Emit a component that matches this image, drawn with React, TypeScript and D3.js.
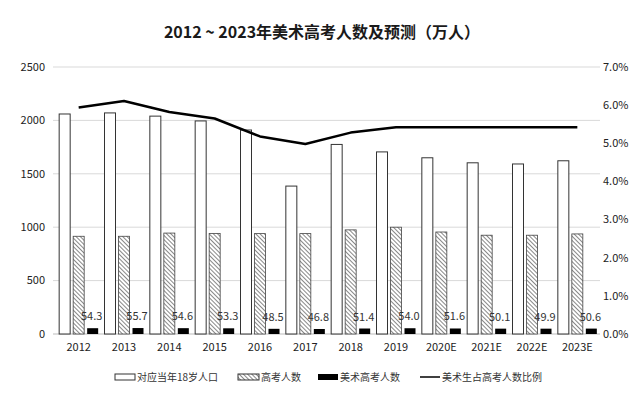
import * as d3 from 'd3';

const years = ['2012', '2013', '2014', '2015', '2016', '2017', '2018', '2019', '2020E', '2021E', '2022E', '2023E'];
const population18 = [2060, 2070, 2040, 1995, 1910, 1385, 1775, 1705, 1650, 1603, 1592, 1622];
const gaokao = [915, 915, 945, 942, 940, 940, 975, 1000, 955, 925, 925, 937];
const artGaokao = [54.3, 55.7, 54.6, 53.3, 48.5, 46.8, 51.4, 54.0, 51.6, 50.1, 49.9, 50.6];
const artRatio = [5.94, 6.11, 5.82, 5.65, 5.18, 4.98, 5.28, 5.42, 5.42, 5.42, 5.42, 5.42];
const leftTicks = [0, 500, 1000, 1500, 2000, 2500];
const rightTicks = [0, 1, 2, 3, 4, 5, 6, 7];
const legendLabels = ['对应当年18岁人口', '高考人数', '美术高考人数', '美术生占高考人数比例'];

const W = 640;
const H = 393;
const margin = { top: 67, right: 40, bottom: 59, left: 56 };
const font = '"Noto Sans CJK SC", "Noto Sans", sans-serif';

export default function App() {
  const x = d3.scaleBand().domain(years).range([margin.left, W - margin.right]);
  const yL = d3.scaleLinear().domain([0, 2500]).range([H - margin.bottom, margin.top]);
  const yR = d3.scaleLinear().domain([0, 7]).range([H - margin.bottom, margin.top]);
  const cx = (d: string) => (x(d) ?? 0) + x.bandwidth() / 2;
  const bw = 11;
  const step = 14;

  const line = d3
    .line<number>()
    .x((_, i) => cx(years[i]))
    .y((v) => yR(v));

  const legendItems = [
    { x: 115, w: 20, text: legendLabels[0], kind: 'white' },
    { x: 238, w: 21, text: legendLabels[1], kind: 'hatch' },
    { x: 318, w: 20, text: legendLabels[2], kind: 'black' },
    { x: 420, w: 20, text: legendLabels[3], kind: 'line' },
  ];

  return (
    <svg width={W} height={H} style={{ position: 'absolute', left: 0, top: 0, background: '#fff' }} fontFamily={font}>
      <defs>
        <pattern id="hatch" width="3" height="3" patternUnits="userSpaceOnUse" patternTransform="rotate(-45)">
          <rect width="3" height="3" fill="#fff" />
          <line x1="0" y1="0" x2="0" y2="3" stroke="#555" strokeWidth="1.4" />
        </pattern>
      </defs>

      <text x={322} y={38} textAnchor="middle" fontSize={16} fontWeight="bold" fill="#1a1a1a">
        2012 ~ 2023年美术高考人数及预测（万人）
      </text>

      {/* gridlines */}
      {leftTicks.slice(1).map((t) => (
        <line key={t} x1={53} x2={W - margin.right} y1={yL(t)} y2={yL(t)} stroke="#d9d9d9" strokeWidth={1} />
      ))}
      <line x1={53} x2={W - margin.right} y1={yL(0)} y2={yL(0)} stroke="#bbb" strokeWidth={1} />

      {/* left axis */}
      {leftTicks.map((t) => (
        <text key={t} x={45} y={yL(t)} dy="0.35em" textAnchor="end" fontSize={11} fill="#222">
          {t}
        </text>
      ))}
      {/* right axis */}
      {rightTicks.map((t) => (
        <text key={t} x={603} y={yR(t)} dy="0.35em" textAnchor="start" fontSize={11} fill="#222">
          {t.toFixed(1)}%
        </text>
      ))}

      {/* bars */}
      {years.map((yr, i) => (
        <g key={yr}>
          <rect x={cx(yr) - step - bw / 2} y={yL(population18[i])} width={bw} height={yL(0) - yL(population18[i])} fill="#fff" stroke="#333" strokeWidth={1} />
          <rect x={cx(yr) - bw / 2} y={yL(gaokao[i])} width={bw} height={yL(0) - yL(gaokao[i])} fill="url(#hatch)" stroke="#444" strokeWidth={0.8} />
          <rect x={cx(yr) + step - bw / 2} y={yL(artGaokao[i])} width={bw} height={yL(0) - yL(artGaokao[i])} fill="#000" />
          <text x={cx(yr) + step - 1} y={yL(artGaokao[i]) - 8} textAnchor="middle" fontSize={11} fill="#333">
            {artGaokao[i].toFixed(1)}
          </text>
          <text x={cx(yr)} y={347} dy="0.35em" textAnchor="middle" fontSize={11} fill="#222">
            {yr}
          </text>
        </g>
      ))}

      <path d={line(artRatio) ?? ''} fill="none" stroke="#000" strokeWidth={2.5} strokeLinejoin="round" />

      {/* legend */}
      {legendItems.map((it) => (
        <g key={it.text}>
          {it.kind === 'line' ? (
            <line x1={it.x} x2={it.x + it.w} y1={377} y2={377} stroke="#000" strokeWidth={1.5} />
          ) : (
            <rect
              x={it.x}
              y={374}
              width={it.w}
              height={6}
              fill={it.kind === 'white' ? '#fff' : it.kind === 'hatch' ? 'url(#hatch)' : '#000'}
              stroke={it.kind === 'black' ? 'none' : '#333'}
              strokeWidth={1}
            />
          )}
          <text x={it.x + it.w + 2} y={377} dy="0.35em" fontSize={10} fill="#333">
            {it.text}
          </text>
        </g>
      ))}
    </svg>
  );
}
